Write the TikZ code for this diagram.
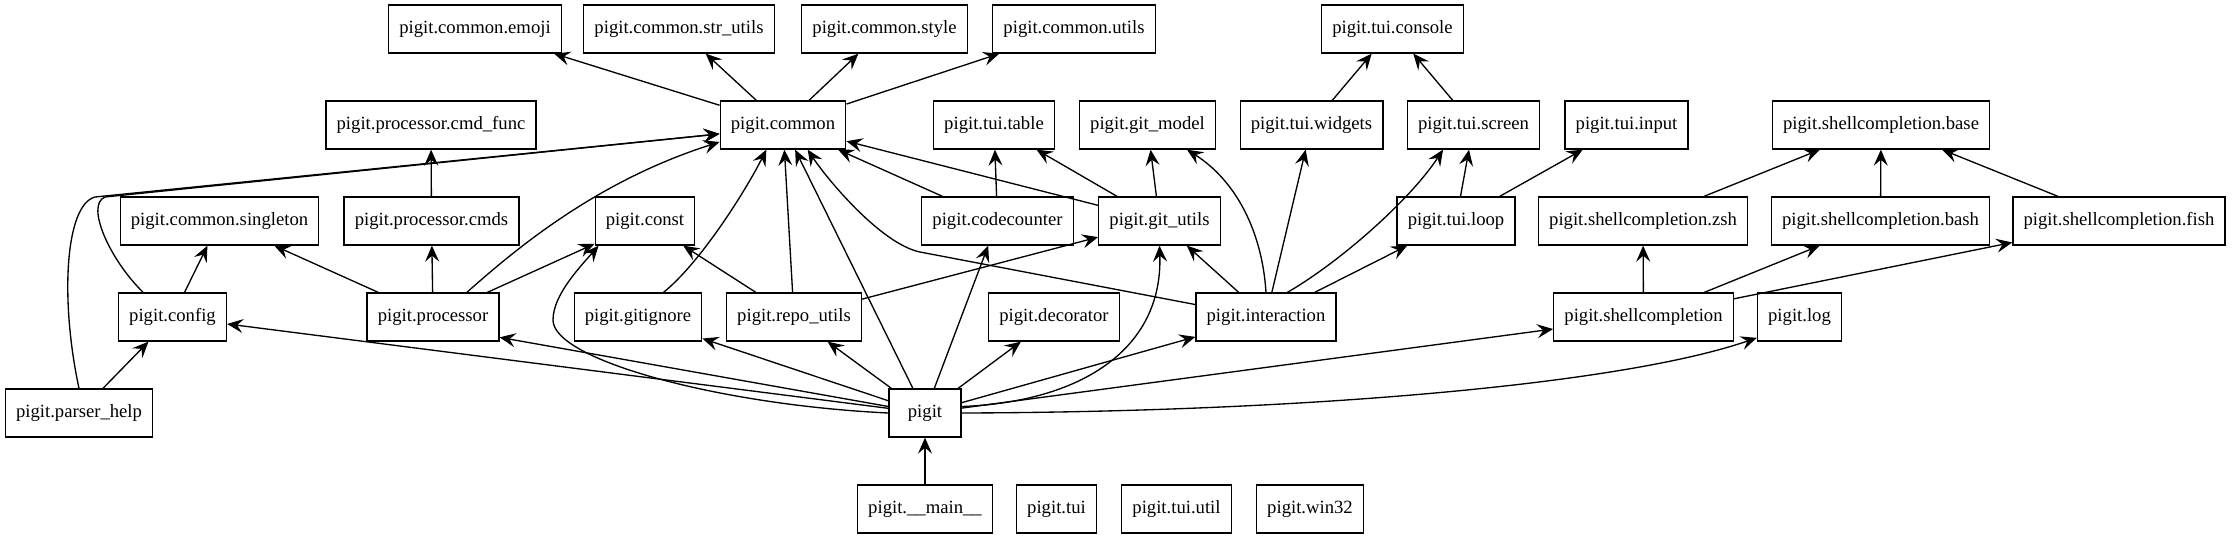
\documentclass[tikz,border=0pt]{standalone}
\usepackage{fontspec}
\setmainfont{Liberation Serif}
\usetikzlibrary{arrows.meta}

\begin{document}
\begin{tikzpicture}[x=0.75pt, y=-0.75pt, >={Stealth[length=12pt,width=10.5pt,inset=4.5pt]},
  module/.style={draw, line width=1pt, minimum width=54pt, minimum height=36pt, inner xsep=8pt, font=\fontsize{14pt}{16pt}\selectfont},
  dep/.style={->, line width=1pt}]
  \useasboundingbox (0,0) rectangle (2235,539);

  % Rangée 1
  \node[module] (emoji) at (475,29) {pigit.common.emoji};
  \node[module] (strutils) at (679,29) {pigit.common.str\_utils};
  \node[module] (style) at (884.5,29) {pigit.common.style};
  \node[module] (cutils) at (1074,29) {pigit.common.utils};
  \node[module] (console) at (1392.5,29) {pigit.tui.console};
  % Rangée 2
  \node[module] (cmdfunc) at (431,125) {pigit.processor.cmd\_func};
  \node[module] (common) at (783,125) {pigit.common};
  \node[module] (table) at (994,125) {pigit.tui.table};
  \node[module] (gitmodel) at (1147.5,125) {pigit.git\_model};
  \node[module] (widgets) at (1311.5,125) {pigit.tui.widgets};
  \node[module] (screen) at (1473.5,125) {pigit.tui.screen};
  \node[module] (input) at (1626.5,125) {pigit.tui.input};
  \node[module] (scbase) at (1881,125) {pigit.shellcompletion.base};
  % Rangée 3
  \node[module] (singleton) at (219.5,221) {pigit.common.singleton};
  \node[module] (cmds) at (431.5,221) {pigit.processor.cmds};
  \node[module] (const) at (645,221) {pigit.const};
  \node[module] (codecounter) at (997.5,221) {pigit.codecounter};
  \node[module] (gitutils) at (1159.5,221) {pigit.git\_utils};
  \node[module] (loop) at (1456,221) {pigit.tui.loop};
  \node[module] (sczsh) at (1643,221) {pigit.shellcompletion.zsh};
  \node[module] (scbash) at (1880.5,221) {pigit.shellcompletion.bash};
  \node[module] (scfish) at (2119,221) {pigit.shellcompletion.fish};
  % Rangée 4
  \node[module] (config) at (172.5,317) {pigit.config};
  \node[module] (processor) at (433,317) {pigit.processor};
  \node[module] (gitignore) at (638,317) {pigit.gitignore};
  \node[module] (repoutils) at (794,317) {pigit.repo\_utils};
  \node[module] (decorator) at (1054,317) {pigit.decorator};
  \node[module] (interaction) at (1266,317) {pigit.interaction};
  \node[module] (shellcompletion) at (1643.5,317) {pigit.shellcompletion};
  \node[module] (log) at (1799.5,317) {pigit.log};
  % Rangée 5
  \node[module] (parserhelp) at (79,413) {pigit.parser\_help};
  \node[module] (pigit) at (925,413) {pigit};
  % Rangée 6
  \node[module] (main) at (925,509) {pigit.\_\_main\_\_};
  \node[module] (tui) at (1056.5,509) {pigit.tui};
  \node[module] (tuiutil) at (1176.5,509) {pigit.tui.util};
  \node[module] (win32) at (1310,509) {pigit.win32};

  % Dépendances vers pigit.common
  \draw[dep] (common) -- (emoji);
  \draw[dep] (common) -- (strutils);
  \draw[dep] (common) -- (style);
  \draw[dep] (common) -- (cutils);
  \draw[dep] (parserhelp.north) .. controls (60,300) and (65,205) .. (95,197) -- (common.188);
  \draw[dep] (config.140) .. controls (110,260) and (85,205) .. (105,197) -- (common.188);
  \draw[dep] (processor.36) .. controls (520,245) and (600,180) .. (common.195);
  \draw[dep] (gitignore.44) .. controls (700,263) and (745,192) .. (common.236);
  \draw[dep] (repoutils) -- (common);
  \draw[dep] (pigit) -- (common);
  \draw[dep] (interaction.170) -- (920,252) .. controls (881,244) and (827,179) .. (common.315);
  \draw[dep] (codecounter) -- (common);
  \draw[dep] (gitutils) -- (common);

  % Côté gauche
  \draw[dep] (cmds) -- (cmdfunc);
  \draw[dep] (config) -- (singleton);
  \draw[dep] (processor) -- (singleton);
  \draw[dep] (processor) -- (cmds);
  \draw[dep] (processor) -- (const);
  \draw[dep] (repoutils) -- (const);
  \draw[dep] (parserhelp) -- (config);

  % Dépendances de pigit
  \draw[dep] (main) -- (pigit);
  \draw[dep] (pigit) -- (config);
  \draw[dep] (pigit) -- (processor.343);
  \draw[dep] (pigit.west) .. controls (720,405) and (553,360) .. (553,320) .. controls (553,295) and (580,267) .. (const.208);
  \draw[dep] (pigit) -- (gitignore);
  \draw[dep] (pigit) -- (repoutils);
  \draw[dep] (pigit) -- (codecounter);
  \draw[dep] (pigit) -- (decorator);
  \draw[dep] (pigit) -- (interaction);
  \draw[dep] (pigit.10) .. controls (1080,402) and (1163,350) .. (gitutils.south);
  \draw[dep] (pigit) -- (shellcompletion);
  \draw[dep] (pigit.east) .. controls (1300,412) and (1620,385) .. (log.206);

  % git et tui
  \draw[dep] (repoutils) -- (gitutils);
  \draw[dep] (interaction) -- (gitutils);
  \draw[dep] (gitutils) -- (gitmodel);
  \draw[dep] (interaction.north) .. controls (1262,230) and (1235,180) .. (gitmodel.328);
  \draw[dep] (codecounter) -- (table);
  \draw[dep] (gitutils) -- (table);
  \draw[dep] (interaction) -- (widgets);
  \draw[dep] (interaction.49) .. controls (1340,262) and (1410,200) .. (screen.219);
  \draw[dep] (loop) -- (screen);
  \draw[dep] (widgets) -- (console);
  \draw[dep] (screen) -- (console);
  \draw[dep] (interaction) -- (loop);
  \draw[dep] (loop) -- (input);

  % Complétion shell
  \draw[dep] (shellcompletion) -- (sczsh);
  \draw[dep] (shellcompletion) -- (scbash);
  \draw[dep] (shellcompletion) -- (scfish);
  \draw[dep] (sczsh) -- (scbase);
  \draw[dep] (scbash) -- (scbase);
  \draw[dep] (scfish) -- (scbase);
\end{tikzpicture}
\end{document}
